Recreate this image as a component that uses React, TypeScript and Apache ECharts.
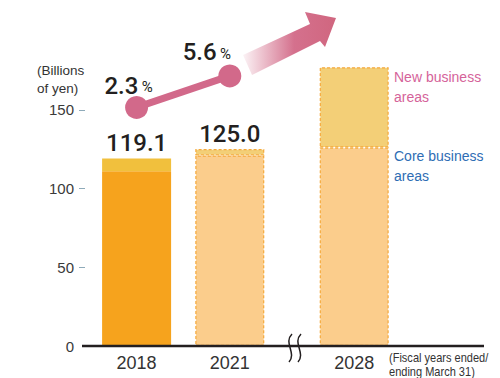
import { useEffect, useRef } from "react";
import * as echarts from "echarts";

// ---- data ----
const years = ["2018", "2021", "2028"];
const coreValues = [111.0, 121.0, 126.0];
const newValues = [8.1, 4.0, 51.0];
const totalLabels = ["119.1", "125.0", ""];
const growthRates = ["2.3", "5.6"];
const growthLevels = [151.5, 171.5];
const yLabelValues = [0, 50, 100, 150];
const yTickValues = [50, 100, 150];
const projected = [false, true, true];

// ---- styles / layout ----
const FIRST_PANEL = 2;
const coreColors = ["#f6a31d", "#fbcd8c", "#fbcd8c"];
const newColors = ["#f1c03d", "#f3cf77", "#f3cf77"];
const DASH = "#f5a93c";
const PINK = "#d2698a";
const NUM_FONT = "Roboto, 'Noto Sans', sans-serif";
const TXT_FONT = "'Liberation Sans', Arial, sans-serif";
const growthLabelOffsets = [[-8, 2], [-23, 0]];

function barData(values: number[], colors: string[], from: number, to: number) {
  const out: any[] = [];
  for (let i = from; i < to; i++) {
    out.push({
      value: values[i],
      itemStyle: projected[i]
        ? { color: colors[i], borderColor: DASH, borderWidth: 1.2, borderType: [3, 2] }
        : { color: colors[i] },
    });
  }
  return out;
}

function panelSeries(from: number, to: number, axis: number, stack: string) {
  return [
    {
      type: "bar",
      xAxisIndex: axis,
      yAxisIndex: axis,
      stack,
      barWidth: 69,
      data: barData(coreValues, coreColors, from, to),
    },
    {
      type: "bar",
      xAxisIndex: axis,
      yAxisIndex: axis,
      stack,
      barWidth: 69,
      data: barData(newValues, newColors, from, to),
      label: {
        show: true,
        position: "top",
        distance: 3,
        formatter: (p: any) => totalLabels[years.indexOf(p.name)] || "",
        fontFamily: NUM_FONT,
        fontSize: 24,
        fontWeight: 500,
        color: "#231f20",
      },
    },
  ];
}

export default function App() {
  const ref = useRef<HTMLDivElement>(null);
  useEffect(() => {
    if (!ref.current) return;
    const chart = echarts.init(ref.current, null, { renderer: "svg" });
    const xAxisCommon = {
      type: "category",
      axisLine: { show: false },
      axisTick: { show: false },
      axisLabel: { fontSize: 18, color: "#333", fontFamily: TXT_FONT, margin: 8 },
    };
    chart.setOption({
      animation: false,
      grid: [
        { left: 90, width: 186.4, top: 31, bottom: 32 },
        { left: 292.2, width: 124, top: 31, bottom: 32 },
      ],
      xAxis: [
        { ...xAxisCommon, gridIndex: 0, data: years.slice(0, FIRST_PANEL) },
        { ...xAxisCommon, gridIndex: 1, data: years.slice(FIRST_PANEL) },
      ],
      yAxis: [
        {
          type: "value",
          gridIndex: 0,
          min: 0,
          max: 200,
          interval: 50,
          offset: 5,
          splitLine: { show: false },
          axisLine: { show: false },
          axisTick: {
            show: true,
            customValues: yTickValues,
            length: 6,
            lineStyle: { color: "#8eaab9", width: 1 },
          },
          axisLabel: {
            customValues: yLabelValues,
            margin: 11,
            fontSize: 15,
            color: "#3a3a3a",
            fontFamily: TXT_FONT,
          },
        },
        { type: "value", gridIndex: 1, min: 0, max: 200, interval: 50, show: false },
      ],
      series: [
        ...panelSeries(0, FIRST_PANEL, 0, "a"),
        ...panelSeries(FIRST_PANEL, years.length, 1, "b"),
        {
          type: "line",
          xAxisIndex: 0,
          yAxisIndex: 0,
          symbol: "circle",
          symbolSize: 23,
          z: 5,
          itemStyle: { color: PINK },
          lineStyle: { color: PINK, width: 7 },
          data: growthLevels.map((v, i) => ({
            value: v,
            label: { offset: growthLabelOffsets[i] },
          })),
          label: {
            show: true,
            position: "top",
            distance: 0,
            formatter: (p: any) => `{n|${growthRates[p.dataIndex]}} {p|%}`,
            rich: {
              n: {
                fontFamily: NUM_FONT,
                fontSize: 24,
                fontWeight: 500,
                color: "#231f20",
                verticalAlign: "bottom",
                lineHeight: 26,
              },
              p: {
                fontFamily: NUM_FONT,
                fontSize: 15,
                color: "#231f20",
                verticalAlign: "bottom",
                lineHeight: 15,
                padding: [0, 0, 3, 0],
              },
            },
          },
        },
      ],
      graphic: [
        {
          type: "line",
          z: 10,
          shape: { x1: 82, y1: 346, x2: 484, y2: 346 },
          style: { stroke: "#231f20", lineWidth: 2.5 },
        },
        {
          type: "bezierCurve",
          z: 11,
          shape: { x1: 292, y1: 334, cpx1: 283, cpy1: 343, cpx2: 297, cpy2: 353, x2: 289, y2: 362 },
          style: { stroke: "#231f20", lineWidth: 1.5, fill: null },
        },
        {
          type: "bezierCurve",
          z: 11,
          shape: { x1: 301, y1: 334, cpx1: 292, cpy1: 343, cpx2: 306, cpy2: 353, x2: 298, y2: 362 },
          style: { stroke: "#231f20", lineWidth: 1.5, fill: null },
        },
        {
          type: "polygon",
          shape: {
            points: [
              [243, 55],
              [310, 24],
              [305, 12],
              [336, 18],
              [325, 47],
              [320, 41],
              [252, 75],
            ],
          },
          style: {
            fill: new echarts.graphic.LinearGradient(0, 0, 1, 0, [
              { offset: 0, color: "rgba(210,105,135,0.08)" },
              { offset: 0.55, color: "rgba(210,105,135,0.95)" },
              { offset: 1, color: "#d0667f" },
            ]),
          },
        },
        {
          type: "text",
          style: {
            text: "(Billions\nof yen)",
            x: 37,
            y: 61,
            font: `13.5px ${TXT_FONT}`,
            fill: "#333",
            lineHeight: 18,
          },
        },
        {
          type: "text",
          style: {
            text: "New business\nareas",
            x: 394,
            y: 67,
            font: `14px ${TXT_FONT}`,
            fill: "#d5639a",
            lineHeight: 20,
          },
        },
        {
          type: "text",
          style: {
            text: "Core business\nareas",
            x: 394,
            y: 146,
            font: `14px ${TXT_FONT}`,
            fill: "#2e6db4",
            lineHeight: 20,
          },
        },
        {
          type: "text",
          x: 389,
          y: 351,
          scaleX: 0.92,
          style: {
            text: "(Fiscal years ended/\nending March 31)",
            x: 0,
            y: 0,
            font: `12px ${TXT_FONT}`,
            fill: "#333",
            lineHeight: 14,
          },
        },
      ],
    });
    return () => chart.dispose();
  }, []);
  return (
    <div
      ref={ref}
      style={{ position: "absolute", left: 0, top: 0, width: 500, height: 378 }}
    />
  );
}
